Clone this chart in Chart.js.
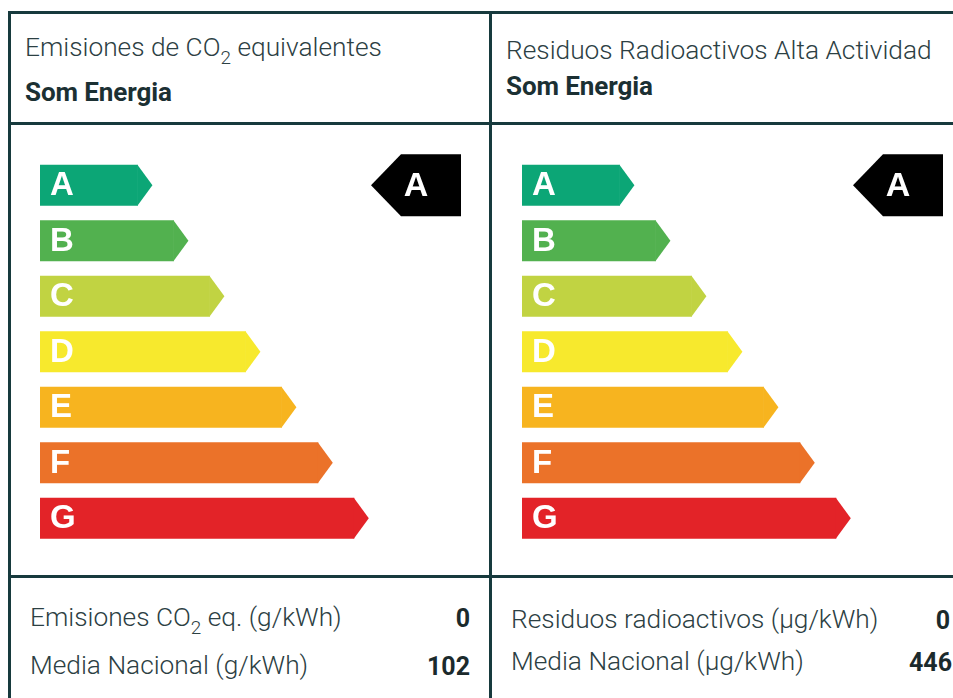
<!DOCTYPE html>
<html lang="es">
<head>
<meta charset="utf-8">
<script src="https://cdn.jsdelivr.net/npm/chart.js@4.4.1/dist/chart.umd.min.js"></script>
<style>
  html, body { margin: 0; padding: 0; background: #fff; width: 953px; height: 698px; overflow: hidden; }
  body { position: relative; font-family: Roboto, "Noto Sans", sans-serif; color: #2c4043; }
  .line { position: absolute; background: #173a3d; }
  .txt { position: absolute; white-space: nowrap; line-height: 1; }
  .light { font-weight: 300; font-size: 26.3px; }
  .bold { font-weight: 700; font-size: 26px; color: #1b3033; letter-spacing: -0.1px; }
  .val { font-weight: 700; font-size: 25px; color: #1b2a2c; text-align: right; }
  sub { font-size: 0.72em; vertical-align: -0.4em; line-height: 0; }
  canvas { position: absolute; }
</style>
</head>
<body>
  <!-- frame -->
  <div class="line" style="left:8px;top:11px;width:960px;height:3px"></div>
  <div class="line" style="left:8px;top:11px;width:3px;height:700px"></div>
  <div class="line" style="left:489px;top:11px;width:3px;height:700px"></div>
  <div class="line" style="left:8px;top:122px;width:960px;height:3px"></div>
  <div class="line" style="left:8px;top:575px;width:960px;height:3px"></div>

  <!-- headers -->
  <div class="txt light" style="left:25px;top:33.5px">Emisiones de CO<sub>2</sub> equivalentes</div>
  <div class="txt bold" style="left:25px;top:79px" id="name1"></div>
  <div class="txt light" style="left:506px;top:36.5px">Residuos Radioactivos Alta Actividad</div>
  <div class="txt bold" style="left:506px;top:73px" id="name2"></div>

  <canvas id="chart1" width="477" height="450" style="left:11px;top:125px"></canvas>
  <canvas id="chart2" width="461" height="450" style="left:492px;top:125px"></canvas>

  <!-- footers -->
  <div class="txt light" style="left:30px;top:603.5px">Emisiones CO<sub>2</sub> eq. (g/kWh)</div>
  <div class="txt val" style="right:483px;top:606px" id="v1"></div>
  <div class="txt light" style="left:30px;top:651.5px">Media Nacional (g/kWh)</div>
  <div class="txt val" style="right:483px;top:654px" id="m1"></div>
  <div class="txt light" style="left:511px;top:605.5px">Residuos radioactivos (µg/kWh)</div>
  <div class="txt val" style="right:3px;top:608px" id="v2"></div>
  <div class="txt light" style="left:511px;top:647.5px">Media Nacional (µg/kWh)</div>
  <div class="txt val" style="right:1px;top:650px" id="m2"></div>

<script>
// energy label classes and bar lengths (36 px per step)
const classes = ['A', 'B', 'C', 'D', 'E', 'F', 'G'];
const classLength = [2.72, 3.72, 4.72, 5.72, 6.72, 7.73, 8.73];
const classColors = ['#0ca676', '#52b14f', '#c1d342', '#f7e92d', '#f7b41f', '#eb7229', '#e32328'];

const company = 'Som Energia';
const ratings = ['A', 'A'];                 // CO2, residuos
const ownValues = [0, 0];                   // g/kWh, µg/kWh
const nationalAverage = [102, 446];         // g/kWh, µg/kWh

document.getElementById('name1').textContent = company;
document.getElementById('name2').textContent = company;
document.getElementById('v1').textContent = ownValues[0];
document.getElementById('v2').textContent = ownValues[1];
document.getElementById('m1').textContent = nationalAverage[0];
document.getElementById('m2').textContent = nationalAverage[1];

// draws the arrow tips, class letters and the rating marker
const labelPlugin = {
  id: 'energyLabel',
  afterDatasetsDraw(chart, args, opts) {
    const ctx = chart.ctx;
    const meta = chart.getDatasetMeta(0);
    const area = chart.chartArea;
    ctx.save();
    meta.data.forEach((bar, i) => {
      const h = bar.height;
      ctx.fillStyle = classColors[i];
      ctx.beginPath();
      ctx.moveTo(bar.x - 0.5, bar.y - h / 2);
      ctx.lineTo(bar.x + 14.5, bar.y);
      ctx.lineTo(bar.x - 0.5, bar.y + h / 2);
      ctx.closePath();
      ctx.fill();

      ctx.fillStyle = '#fff';
      ctx.font = 'bold 33px "Liberation Sans", Arial, sans-serif';
      ctx.textBaseline = 'middle';
      ctx.textAlign = 'left';
      ctx.fillText(classes[i], bar.base + 10, bar.y + 1);
    });

    // rating marker
    const idx = classes.indexOf(opts.rating);
    const cy = chart.scales.y.getPixelForValue(idx);
    const right = area.right;
    const left = right - 60;
    const tip = left - 30;
    ctx.fillStyle = '#000';
    ctx.beginPath();
    ctx.moveTo(right, cy - 31);
    ctx.lineTo(right, cy + 31);
    ctx.lineTo(left, cy + 31);
    ctx.lineTo(tip, cy);
    ctx.lineTo(left, cy - 31);
    ctx.closePath();
    ctx.fill();
    ctx.fillStyle = '#fff';
    ctx.font = 'bold 34px "Liberation Sans", Arial, sans-serif';
    ctx.textAlign = 'center';
    ctx.fillText(opts.rating, (tip + right) / 2, cy + 1);
    ctx.restore();
  }
};

function makeLabel(id, rating, padLeft, padRight) {
  new Chart(document.getElementById(id), {
    type: 'bar',
    data: {
      labels: classes,
      datasets: [{
        data: classLength,
        backgroundColor: classColors,
        borderWidth: 0,
        categoryPercentage: 1,
        barPercentage: 41 / 55.5
      }]
    },
    options: {
      indexAxis: 'y',
      responsive: false,
      animation: false,
      layout: { padding: { left: padLeft, right: padRight, top: 32.5, bottom: 29 } },
      scales: {
        x: { display: false, min: 0, max: 421 / 36 },
        y: { display: false, grid: { display: false } }
      },
      plugins: {
        legend: { display: false },
        tooltip: { enabled: false },
        energyLabel: { rating: rating }
      }
    },
    plugins: [labelPlugin]
  });
}

makeLabel('chart1', ratings[0], 29, 477 - 29 - 421);
makeLabel('chart2', ratings[1], 30, 461 - 30 - 421);
</script>
</body>
</html>
